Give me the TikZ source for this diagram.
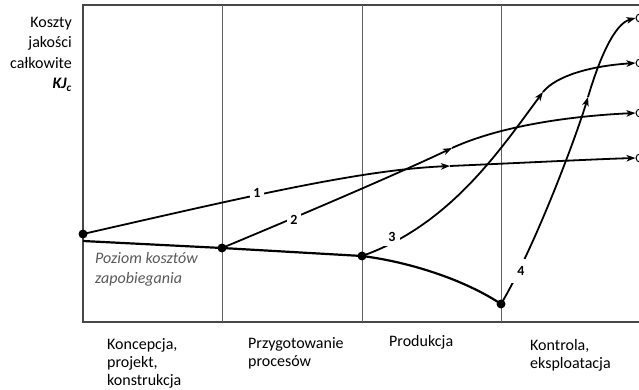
\documentclass[tikz,border=0pt]{standalone}
\usepackage{fontspec}
\setmainfont{Carlito}
\usetikzlibrary{arrows.meta}
\begin{document}
\begin{tikzpicture}[x=1pt,y=-1pt,
  curve/.style={line width=1.8pt, draw=black},
  basecurve/.style={line width=2.2pt, draw=black},
  tip/.style={-{Stealth[length=9pt,width=6.5pt,inset=2.5pt]}},
  frame/.style={draw=black!72, line width=1.5pt},
  divider/.style={draw=black!62, line width=1pt},
  dot/.style={circle, fill=black, inner sep=0pt, minimum size=9pt},
  endc/.style={circle, draw=black, fill=white, line width=1pt, inner sep=0pt, minimum size=8pt},
  num/.style={fill=white, inner sep=3pt, font=\fontsize{14}{16}\selectfont\bfseries},
  txt/.style={font=\fontsize{16}{18}\selectfont, align=left, anchor=north west, inner sep=0pt},
]
\useasboundingbox (0,0) rectangle (639,390);
\clip (0,0) rectangle (639,390);
% frame
\draw[frame] (639,5) -- (83,5) -- (83,322) -- (639,322);
\draw[divider] (222,5) -- (222,322);
\draw[divider] (362,5) -- (362,322);
\draw[divider] (501,5) -- (501,322);

% named points
\coordinate (d1) at (83,234);
\coordinate (d2) at (222,248);
\coordinate (d3) at (362,256);
\coordinate (d4) at (501,304);
\coordinate (b0) at (83,241);
\coordinate (m1) at (450,166);
\coordinate (m2) at (452,148);
\coordinate (m3) at (543,92);
\coordinate (m4) at (588,97);
\node[endc] (e1) at (640,158) {};
\node[endc] (e2) at (640,113) {};
\node[endc] (e3) at (640,63) {};
\node[endc] (e4) at (640,18) {};

% base curve
\draw[basecurve] (b0) -- (d2) -- (d3) .. controls (410,262) and (465,280) .. (d4);

% curve 1
\draw[curve,tip] (d1) .. controls (250,196) and (360,170) .. (m1);
\draw[curve,tip] (m1) .. controls (540,162) and (600,159) .. (e1.west);
% curve 2
\draw[curve,tip] (d2) .. controls (330,203) and (410,168) .. (m2);
\draw[curve,tip] (m2) .. controls (500,126) and (570,116) .. (e2.west);
% curve 3
\draw[curve,tip] (d3) .. controls (450,225) and (500,150) .. (m3);
\draw[curve,tip] (m3) .. controls (556,76) and (590,66) .. (e3.west);
% curve 4
\draw[curve,tip] (d4) .. controls (536,245) and (577,134) .. (m4);
\draw[curve,tip] (m4) .. controls (599,60) and (614,24) .. (e4.west);

% dots
\node[dot] (p1) at (d1) {};
\node[dot] (p2) at (d2) {};
\node[dot] (p3) at (d3) {};
\node[dot] (p4) at (d4) {};

% curve labels
\node[num] (n1) at (257,193) {1};
\node[num, inner sep=3.5pt] (n2) at (294,220) {2};
\node[num, inner sep=4pt] (n3) at (392,237) {3};
\node[num, inner sep=7pt] (n4) at (521,271) {4};

% axis label
\node[font=\fontsize{16}{20.5}\selectfont, align=right, anchor=north east, inner sep=0pt] (ylab) at (72,17)
  {Koszty\\jakości\\całkowite\\\textbf{\textit{KJ\textsubscript{c}}}};

% level label
\node[txt, text=black!65, font=\fontsize{16}{19.5}\selectfont\itshape] (lvl) at (95,252.5)
  {Poziom kosztów\\zapobiegania};

% phase labels
\node[txt] (f1) at (107,338) {Koncepcja,\\projekt,\\konstrukcja};
\node[txt] (f2) at (248,337) {Przygotowanie\\procesów};
\node[txt] (f3) at (389,335) {Produkcja};
\node[txt] (f4) at (530,339) {Kontrola,\\eksploatacja};
\end{tikzpicture}
\end{document}
